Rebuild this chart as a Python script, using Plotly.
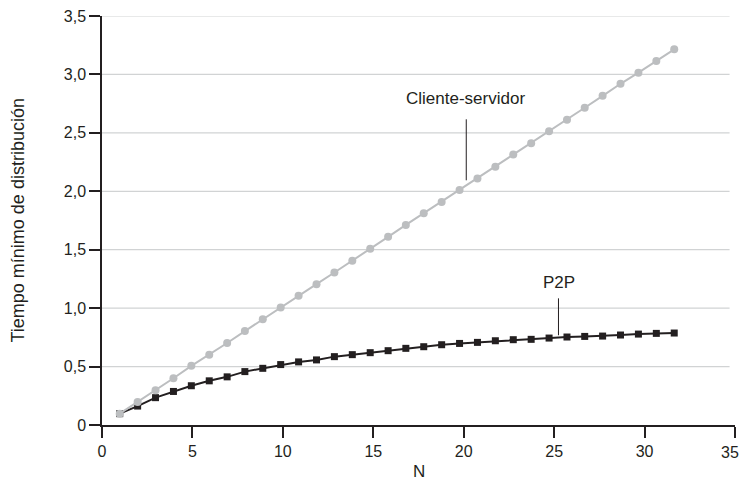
import plotly.graph_objects as go

# Read positions of the N values (points)
n_values = [0.98, 1.97, 2.96, 3.95, 4.94, 5.93, 6.92, 7.90, 8.89, 9.88,
            10.87, 11.86, 12.85, 13.84, 14.83, 15.82, 16.80, 17.79, 18.78, 19.77,
            20.76, 21.75, 22.74, 23.73, 24.72, 25.71, 26.69, 27.68, 28.67, 29.66,
            30.65, 31.64]

cliente_servidor = [0.097, 0.196, 0.298, 0.400, 0.506, 0.602, 0.702, 0.804, 0.906, 1.005,
                    1.105, 1.205, 1.305, 1.405, 1.508, 1.610, 1.712, 1.812, 1.908, 2.010,
                    2.110, 2.209, 2.314, 2.411, 2.513, 2.612, 2.715, 2.817, 2.920, 3.015,
                    3.115, 3.215]

p2p = [0.097, 0.162, 0.234, 0.287, 0.336, 0.378, 0.412, 0.457, 0.485, 0.517,
       0.540, 0.557, 0.585, 0.602, 0.619, 0.636, 0.656, 0.670, 0.687, 0.698,
       0.707, 0.721, 0.730, 0.733, 0.744, 0.753, 0.758, 0.761, 0.770, 0.778,
       0.784, 0.787]

x_ticks = [0, 5, 10, 15, 20, 25, 30, 35]
y_ticks = [0, 0.5, 1.0, 1.5, 2.0, 2.5, 3.0, 3.5]
y_tick_labels = ["0", "0,5", "1,0", "1,5", "2,0", "2,5", "3,0", "3,5"]

x_label = "N"
y_label = "Tiempo mínimo de distribución"

INK = "#231f20"
GRAY = "#bcbec0"
GRID = "#d1d3d4"
FONT = "Liberation Sans, Arial, sans-serif"

fig = go.Figure()

fig.add_trace(go.Scatter(
    x=n_values, y=p2p, mode="lines+markers", name="P2P",
    line=dict(color=INK, width=2),
    marker=dict(symbol="square", size=7, color=INK),
    showlegend=False,
))
fig.add_trace(go.Scatter(
    x=n_values, y=cliente_servidor, mode="lines+markers", name="Cliente-servidor",
    line=dict(color=GRAY, width=2),
    marker=dict(symbol="circle", size=8, color=GRAY),
    showlegend=False,
))

# horizontal gridlines (stop a little short of the axis end)
for yv in y_ticks[1:]:
    fig.add_shape(type="line", xref="x", yref="y", x0=0, x1=34.7, y0=yv, y1=yv,
                  line=dict(color=GRID, width=1.2), layer="below")

# leader lines
fig.add_shape(type="line", xref="x", yref="y", x0=20.14, x1=20.14, y0=2.616, y1=2.094,
              line=dict(color=INK, width=1))
fig.add_shape(type="line", xref="x", yref="y", x0=25.24, x1=25.24, y0=1.084, y1=0.768,
              line=dict(color=INK, width=1))

fig.add_annotation(x=20.08, y=2.79, xref="x", yref="y", text="Cliente-servidor",
                   showarrow=False, font=dict(family=FONT, size=17, color=INK))
fig.add_annotation(x=25.28, y=1.217, xref="x", yref="y", text="P2P",
                   showarrow=False, font=dict(family=FONT, size=17, color=INK))

# last x tick label sits at the very edge of the page: draw it as text
fig.add_annotation(x=x_ticks[-1], y=0, xref="x", yref="y", text=str(x_ticks[-1]),
                   showarrow=False, xanchor="right", yanchor="top", xshift=5, yshift=-18,
                   borderpad=0, font=dict(family=FONT, size=16, color=INK))

# axis titles
fig.add_annotation(x=0, y=0.5, xref="paper", yref="paper", text=y_label,
                   textangle=-90, showarrow=False, xanchor="center", yanchor="middle",
                   xshift=-85, font=dict(family=FONT, size=18, color=INK))
fig.add_annotation(x=0.5, y=0, xref="paper", yref="paper", text=x_label,
                   showarrow=False, xanchor="center", yanchor="middle",
                   yshift=-46, font=dict(family=FONT, size=17, color=INK))

fig.update_layout(
    width=741, height=493,
    margin=dict(l=101.5, r=6, t=15.7, b=68.3, pad=0),
    paper_bgcolor="white", plot_bgcolor="white",
    font=dict(family=FONT, size=16, color=INK),
)
fig.update_xaxes(
    range=[0, 35], tickvals=x_ticks, ticktext=[str(v) for v in x_ticks[:-1]] + [""],
    showgrid=False, zeroline=False, showline=True, linecolor=INK, linewidth=1.5,
    ticks="outside", ticklen=11, tickwidth=1.5, tickcolor=INK,
    tickfont=dict(family=FONT, size=16, color=INK),
)
fig.update_yaxes(
    range=[0, 3.5], tickvals=y_ticks, ticktext=y_tick_labels,
    showgrid=False, zeroline=False, showline=True, linecolor=INK, linewidth=1.5,
    ticks="outside", ticklen=11, tickwidth=1.5, tickcolor=INK,
    tickfont=dict(family=FONT, size=16, color=INK),
)

fig.write_html("out.html", config={"displayModeBar": False},
               post_script="document.body.style.margin='0';document.body.style.overflow='hidden';")
